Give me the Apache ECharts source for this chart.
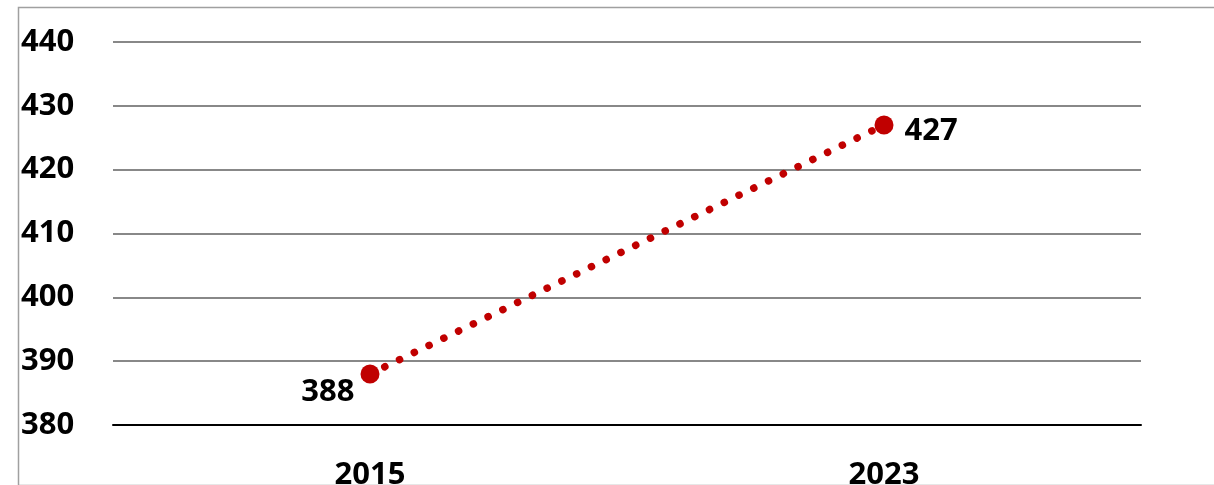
<!DOCTYPE html>
<html><head><meta charset="utf-8">
<script src="https://cdn.jsdelivr.net/npm/echarts@6/dist/echarts.min.js"></script>
<style>html,body{margin:0;padding:0;background:#fff}#c{width:1214px;height:485px}</style>
</head><body><div id="c"></div>
<script>
const categories = ['2015', '2023'];
const values = [388, 427];
const yTicks = [380, 390, 400, 410, 420, 430, 440];

const chart = echarts.init(document.getElementById('c'));
const font = '"Open Sans", sans-serif';
chart.setOption({
  animation: false,
  graphic: [{
    type: 'rect', left: 16, top: 5, silent: true,
    shape: { width: 1210, height: 478 },
    style: { fill: 'none', stroke: '#a0a0a0', lineWidth: 1.5 }
  }],
  grid: { left: 113, right: 73, top: 42, bottom: 60, containLabel: false, outerBoundsMode: 'none' },
  xAxis: {
    type: 'category', data: categories, boundaryGap: true,
    axisLine: { lineStyle: { color: '#000', width: 2 } },
    axisTick: { show: false },
    axisLabel: { margin: 35, fontFamily: font, fontWeight: 'bold', fontSize: 31, color: '#000' }
  },
  yAxis: {
    type: 'value', min: yTicks[0], max: yTicks[yTicks.length - 1], interval: 10,
    axisLine: { show: false }, axisTick: { show: false },
    axisLabel: { align: 'left', margin: 92, fontFamily: font, fontWeight: 'bold', fontSize: 31, color: '#000' },
    splitLine: { lineStyle: { color: '#888', width: 2 } }
  },
  series: [{
    type: 'line', data: values.map((v, i) => ({
      value: v,
      label: i === 0
        ? { position: 'left', offset: [-1, 18] }
        : { position: 'right', offset: [6, 6] }
    })),
    symbol: 'circle', symbolSize: 19,
    itemStyle: { color: '#C00000' },
    lineStyle: { color: '#C00000', width: 7.5, type: [0.1, 16.3], cap: 'round' },
    label: { show: true, fontFamily: font, fontWeight: 'bold', fontSize: 31, color: '#000' }
  }]
});
</script></body></html>
